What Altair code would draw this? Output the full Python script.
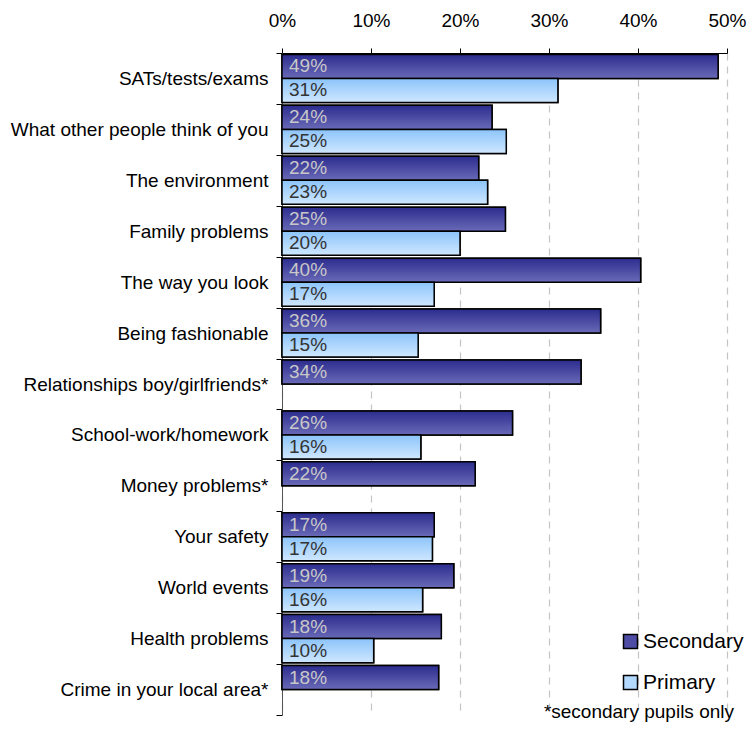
import altair as alt
import pandas as pd

categories = [
    "SATs/tests/exams",
    "What other people think of you",
    "The environment",
    "Family problems",
    "The way you look",
    "Being fashionable",
    "Relationships boy/girlfriends*",
    "School-work/homework",
    "Money problems*",
    "Your safety",
    "World events",
    "Health problems",
    "Crime in your local area*",
]
secondary = [49.0, 23.6, 22.1, 25.1, 40.3, 35.8, 33.6, 25.9, 21.7, 17.1, 19.3, 17.9, 17.6]
primary = [31.0, 25.2, 23.1, 20.0, 17.1, 15.3, None, 15.6, None, 16.9, 15.8, 10.3, None]
secondary_labels = ["49%", "24%", "22%", "25%", "40%", "36%", "34%", "26%", "22%", "17%", "19%", "18%", "18%"]
primary_labels = ["31%", "25%", "23%", "20%", "17%", "15%", None, "16%", None, "17%", "16%", "10%", None]
series = ["Secondary", "Primary"]
tick_values = [0, 10, 20, 30, 40, 50]
footnote = "*secondary pupils only"

rows = []
for c, s, sl in zip(categories, secondary, secondary_labels):
    rows.append({"category": c, "series": "Secondary", "value": s, "label": sl})
for c, p, pl in zip(categories, primary, primary_labels):
    if p is not None:
        rows.append({"category": c, "series": "Primary", "value": p, "label": pl})
df = pd.DataFrame(rows)

FONT = "Liberation Sans"

sec_grad = alt.Gradient(
    gradient="linear",
    stops=[alt.GradientStop(color="#2c2c8e", offset=0), alt.GradientStop(color="#6a6ab8", offset=1)],
    x1=0, x2=0, y1=0, y2=1,
)
pri_grad = alt.Gradient(
    gradient="linear",
    stops=[alt.GradientStop(color="#8cc4fa", offset=0), alt.GradientStop(color="#cfe7ff", offset=1)],
    x1=0, x2=0, y1=0, y2=1,
)

base = alt.Chart(df).encode(
    x=alt.X(
        "value:Q",
        scale=alt.Scale(domain=[0, 50]),
        axis=alt.Axis(
            orient="top", title=None, values=tick_values,
            labelExpr="datum.value + '%'", labelFontSize=19, labelColor="black",
            labelPadding=18, labelFlush=False, tickSize=5, tickColor="black",
            domainColor="black",
            grid=True, gridDash=[7, 6], gridColor="#c4c4c4", gridWidth=1.2,
        ),
    ),
    y=alt.Y(
        "category:N", sort=categories,
        scale=alt.Scale(paddingInner=0, paddingOuter=0),
        axis=alt.Axis(
            title=None, tickBand="extent", labelFontSize=19, labelColor="black",
            labelPadding=8, tickSize=6, tickColor="black", domainColor="#555555",
            grid=False, labelLimit=300,
        ),
    ),
    yOffset=alt.YOffset(
        "series:N", sort=series,
        scale=alt.Scale(domain=series, paddingOuter=0.06, paddingInner=0),
    ),
)

bars = base.mark_bar(stroke="black", strokeWidth=1.5).encode(
    color=alt.Color(
        "series:N",
        scale=alt.Scale(domain=series, range=["#4d4da6", "#b3d9ff"]),
        legend=alt.Legend(
            title=None, orient="none", legendX=338, legendY=578,
            symbolType="square", symbolSize=196, symbolStrokeColor="black",
            symbolStrokeWidth=1.5, labelFontSize=21, labelColor="black",
            labelOffset=2, rowPadding=19, padding=0, labelLimit=200,
        ),
    )
)
sec_bars = base.transform_filter(alt.datum.series == "Secondary").mark_bar(
    fill=sec_grad, stroke="black", strokeWidth=1.5
)
pri_bars = base.transform_filter(alt.datum.series == "Primary").mark_bar(
    fill=pri_grad, stroke="black", strokeWidth=1.5
)
labels = base.mark_text(align="left", baseline="middle", dx=7, fontSize=19).encode(
    x=alt.datum(0),
    text="label:N",
    color=alt.condition(alt.datum.series == "Secondary", alt.value("#c8c8c8"), alt.value("#333333")),
)
note = alt.Chart(pd.DataFrame({"t": [footnote]})).mark_text(
    align="right", baseline="alphabetic", fontSize=19, color="black"
).encode(x=alt.value(452), y=alt.value(665), text="t:N")

chart = alt.layer(bars, sec_bars, pri_bars, labels, note).properties(
    width=445, height=662,
    autosize=alt.AutoSizeParams(type="none"),
    padding={"left": 282, "top": 53, "right": 21, "bottom": 19},
).configure(font=FONT).configure_view(strokeWidth=0)

chart.save("out.html", embed_options={"renderer": "svg", "actions": False})
